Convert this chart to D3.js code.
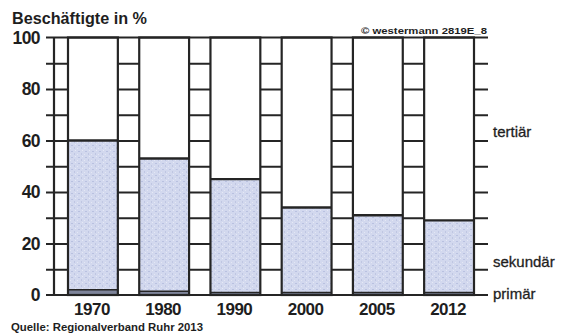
<!DOCTYPE html>
<html>
<head>
<meta charset="utf-8">
<script src="https://cdn.jsdelivr.net/npm/d3@7"></script>
<style>
  html, body { margin: 0; padding: 0; background: #fff; }
  svg { display: block; }
  text { font-family: "Liberation Sans", Arial, Helvetica, sans-serif; fill: #1e1e1e; }
</style>
</head>
<body>
<svg id="chart" width="565" height="334"></svg>
<script>
// Beschäftigte im Ruhrgebiet nach Sektoren (Anteile in %)
const years = ["1970", "1980", "1990", "2000", "2005", "2012"];
const primaer = [2, 1.5, 1, 1, 1, 1];                 // primärer Sektor
const industrie = [60, 53, 45, 34, 31, 29];           // primär + sekundär (Oberkante der Füllung)
const gridTicks = [10, 20, 30, 40, 50, 60, 70, 80, 90];
const yLabels = [0, 20, 40, 60, 80, 100];
const sectorLabels = ["tertiär", "sekundär", "primär"];
const sectorLabelY = [63.5, 13, 0.5];

const svg = d3.select("#chart");
const ink = "#252525";

const x = d3.scaleBand().domain(years).range([68, 474]).paddingInner(0.3).paddingOuter(0);
const y = d3.scaleLinear().domain([0, 100]).range([295, 37.5]);
const bw = x.bandwidth();

// körnige Füllung
const defs = svg.append("defs");
const pat = defs.append("pattern").attr("id", "speckle").attr("patternUnits", "userSpaceOnUse")
  .attr("width", 7).attr("height", 6);
pat.append("rect").attr("width", 7).attr("height", 6).attr("fill", "#d2d8ee");
pat.append("rect").attr("x", 1).attr("y", 1).attr("width", 2).attr("height", 1).attr("fill", "#b9c1e0");
pat.append("rect").attr("x", 4).attr("y", 3).attr("width", 1).attr("height", 2).attr("fill", "#bfc6e2");
pat.append("rect").attr("x", 5).attr("y", 0).attr("width", 1).attr("height", 1).attr("fill", "#e6e9f6");
pat.append("rect").attr("x", 0).attr("y", 4).attr("width", 1).attr("height", 1).attr("fill", "#e4e7f4");

// Füllung primär + sekundär
svg.append("g").selectAll("rect").data(years).join("rect")
  .attr("x", d => x(d)).attr("width", bw)
  .attr("y", (d, i) => y(industrie[i])).attr("height", (d, i) => y(0) - y(industrie[i]))
  .attr("fill", "url(#speckle)");

// primärer Sektor
svg.append("g").selectAll("rect").data(years).join("rect")
  .attr("x", d => x(d)).attr("width", bw)
  .attr("y", (d, i) => y(primaer[i])).attr("height", (d, i) => y(0) - y(primaer[i]))
  .attr("fill", "#7e849a");
svg.append("g").selectAll("line").data(years).join("line")
  .attr("x1", d => x(d)).attr("x2", d => x(d) + bw)
  .attr("y1", (d, i) => y(primaer[i])).attr("y2", (d, i) => y(primaer[i]))
  .attr("stroke", ink).attr("stroke-width", 1.5);

// Obergrenze sekundär
svg.append("g").selectAll("line").data(years).join("line")
  .attr("x1", d => x(d)).attr("x2", d => x(d) + bw)
  .attr("y1", (d, i) => y(industrie[i])).attr("y2", (d, i) => y(industrie[i]))
  .attr("stroke", ink).attr("stroke-width", 2.4);

// Säulenumrisse
svg.append("g").selectAll("rect").data(years).join("rect")
  .attr("x", d => x(d)).attr("width", bw)
  .attr("y", y(100)).attr("height", y(0) - y(100))
  .attr("fill", "none").attr("stroke", ink).attr("stroke-width", 2.2);

// Sprossen: je Zwischenraum eine Achse mit Strichen über die ganze Lückenbreite
const gapStarts = [46].concat(years.map(d => x(d) + bw));
const gapEnds = years.map(d => x(d)).concat([488]);
gapStarts.forEach((x0, i) => {
  const axis = d3.axisRight(y).tickValues(gridTicks).tickSize(gapEnds[i] - x0).tickFormat("");
  const g = svg.append("g").attr("transform", `translate(${x0},0)`).call(axis);
  g.select(".domain").remove();
  g.selectAll(".tick line").attr("stroke", ink).attr("stroke-width", 2);
});

// Rahmen oben / unten und linke Achse
svg.append("line").attr("x1", 46).attr("x2", 488).attr("y1", y(100)).attr("y2", y(100)).attr("stroke", ink).attr("stroke-width", 2.2);
svg.append("line").attr("x1", 46).attr("x2", 488).attr("y1", y(0)).attr("y2", y(0)).attr("stroke", ink).attr("stroke-width", 2.2);
svg.append("line").attr("x1", 54).attr("x2", 54).attr("y1", y(100)).attr("y2", y(0)).attr("stroke", ink).attr("stroke-width", 2.2);

// y-Beschriftung
svg.append("g").selectAll("text").data(yLabels).join("text")
  .attr("x", 40).attr("y", d => y(d)).attr("dy", "0.36em")
  .attr("text-anchor", "end").attr("font-size", 17.5).attr("font-weight", "bold")
  .attr("letter-spacing", -0.6).text(d => d);

// Jahre
svg.append("g").selectAll("text").data(years).join("text")
  .attr("x", d => x(d) + bw / 2 - 1).attr("y", 314.5)
  .attr("text-anchor", "middle").attr("font-size", 17).attr("font-weight", "bold")
  .attr("letter-spacing", -0.5).text(d => d);

// Sektoren
svg.append("g").selectAll("text").data(sectorLabels).join("text")
  .attr("x", 493).attr("y", (d, i) => y(sectorLabelY[i])).attr("dy", "0.35em")
  .attr("font-size", 15).attr("stroke", "#1e1e1e").attr("stroke-width", 0.3).text(d => d);

// Titel, Copyright, Quelle
svg.append("text").attr("x", 12).attr("y", 24).attr("font-size", 16.5).attr("font-weight", "bold")
  .attr("textLength", 135).attr("lengthAdjust", "spacingAndGlyphs").text("Beschäftigte in %");
svg.append("text").attr("x", 361).attr("y", 34).attr("font-size", 9.5).attr("font-weight", "bold")
  .attr("textLength", 126).attr("lengthAdjust", "spacingAndGlyphs").text("© westermann 2819E_8");
svg.append("text").attr("x", 11).attr("y", 331).attr("font-size", 10.5).attr("font-weight", "bold")
  .attr("textLength", 192).attr("lengthAdjust", "spacingAndGlyphs").text("Quelle: Regionalverband Ruhr 2013");
</script>
</body>
</html>
